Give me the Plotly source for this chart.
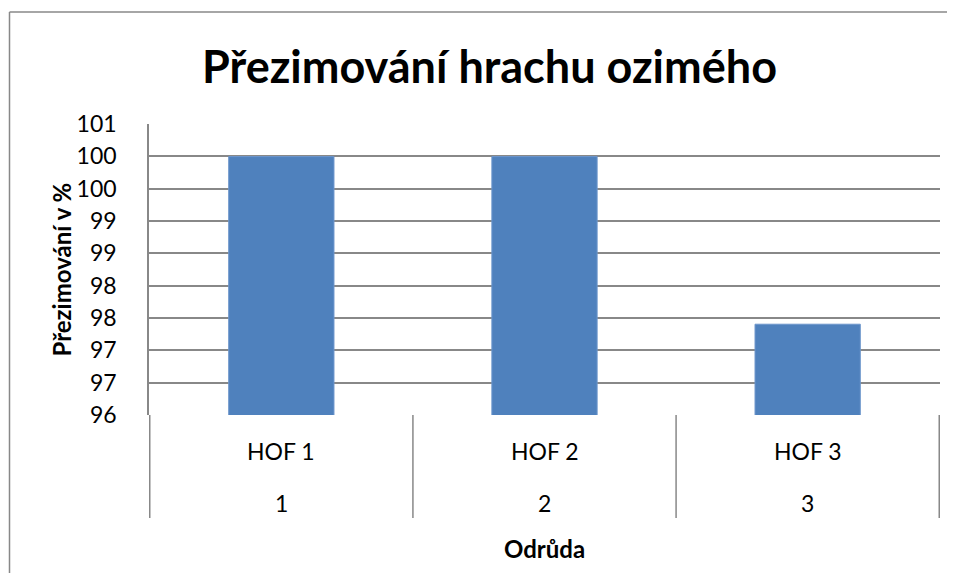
import plotly.graph_objects as go

categories = ["HOF 1", "HOF 2", "HOF 3"]
outer_labels = ["1", "2", "3"]
values = [100.44, 100.44, 97.56]
y_tick_vals = [96 + k * 5 / 9 for k in range(10)]
y_tick_text = ["96", "97", "97", "98", "98", "99", "99", "100", "100", "101"]

OFF = 8  # default page body margin
W, H = 955 - OFF, 581 - 2 * OFF
L, R, T, B = 149 - OFF, 940 - OFF, 124 - OFF, 415 - OFF
pw, ph = R - L, B - T

def px_x(x):
    return (x - OFF - L) / pw

def px_y(y):
    return (B - (y - OFF)) / ph

FONT = "Lato"
GRID = "#888888"

fig = go.Figure()
fig.add_trace(go.Bar(
    x=categories, y=values,
    marker=dict(color="#4F81BD", line=dict(color="#6D96CC", width=1)),
    width=0.4,
))

shapes = []
for i in range(len(categories) + 1):
    shapes.append(dict(type="line", xref="x", yref="paper",
                       x0=i - 0.5, x1=i - 0.5, y0=0, y1=px_y(518),
                       line=dict(color=GRID, width=1.5)))
shapes.append(dict(type="line", xref="paper", yref="paper",
                   x0=px_x(9.5), x1=px_x(9.5), y0=px_y(12), y1=px_y(600),
                   line=dict(color=GRID, width=1.5)))
shapes.append(dict(type="line", xref="paper", yref="paper",
                   x0=px_x(9.5), x1=px_x(980), y0=px_y(12), y1=px_y(12),
                   line=dict(color=GRID, width=1.5)))

def ann(**kw):
    d = dict(showarrow=False, xanchor="center", yanchor="middle")
    d.update(kw)
    annotations.append(d)

annotations = []
for c, o in zip(categories, outer_labels):
    ann(x=c, y=px_y(451), xref="x", yref="paper", text=c,
        font=dict(family=FONT, size=23, color="black"))
    ann(x=c, y=px_y(503), xref="x", yref="paper", text=o,
        font=dict(family=FONT, size=23, color="black"))
ann(x=0.5, y=px_y(548), xref="paper", yref="paper", text="<b>Odrůda</b>",
    font=dict(family=FONT, size=24, color="black"))
ann(x=px_x(61), y=0.5, xref="paper", yref="paper", text="<b>Přezimování v %</b>",
    textangle=-90, font=dict(family=FONT, size=24, color="black"))
ann(x=px_x(489), y=px_y(66), xref="paper", yref="paper",
    text="<b>Přezimování hrachu ozimého</b>",
    font=dict(family=FONT, size=45, color="black"))

fig.update_layout(
    width=W, height=H,
    margin=dict(l=L, r=W - R, t=T, b=H - B, pad=0),
    paper_bgcolor="white", plot_bgcolor="white",
    showlegend=False,
    shapes=shapes, annotations=annotations,
    xaxis=dict(showticklabels=False, showgrid=False, zeroline=False,
               showline=False, ticks=""),
    yaxis=dict(range=[96, 101], tickmode="array", tickvals=y_tick_vals,
               ticktext=y_tick_text, showgrid=True, gridcolor=GRID, gridwidth=1.5,
               showline=True, linecolor=GRID, linewidth=1.5, zeroline=False,
               ticks="", ticklabelstandoff=26,
               tickfont=dict(family=FONT, size=23, color="black")),
    font=dict(family=FONT),
)

fig.write_html("out.html")
